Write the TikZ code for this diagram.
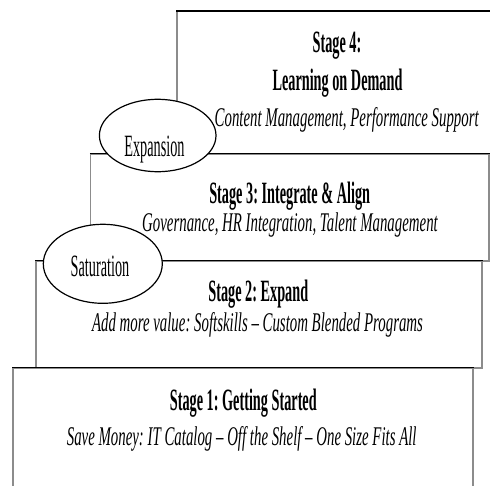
\documentclass[tikz,border=0pt]{standalone}
\usepackage{fontspec}
\setmainfont{Liberation Serif}
\newfontfamily\headfont{Liberation Serif}[FakeStretch=0.46]
\newfontfamily\descfont{Liberation Serif}[FakeStretch=0.55]
\usetikzlibrary{shapes.geometric}
\tikzset{
  stagebox/.style={draw=black!45, line width=1.2pt, fill=white, inner sep=0pt, rectangle},
  hline/.style={draw=black, line width=1.6pt},
  ovalbox/.style={ellipse, draw=black, line width=1.2pt, fill=white, inner sep=0pt},
  headtext/.style={anchor=base, inner sep=0pt, font=\frenchspacing\headfont\bfseries\fontsize{31}{36}\selectfont},
  desctext/.style={anchor=base, inner sep=0pt, font=\frenchspacing\descfont\itshape\fontsize{27}{32}\selectfont},
  ovaltext/.style={anchor=base, inner sep=0pt, font=\frenchspacing\headfont\fontsize{31}{36}\selectfont},
}
\begin{document}
\begin{tikzpicture}[x=1pt,y=-1pt]
\useasboundingbox (0,0) rectangle (490,485);
\clip (0,0) rectangle (490,485);
% boxes
\node[stagebox, minimum width=323pt, minimum height=142.5pt] (s4) at (338.5,82.75) {};
\node[stagebox, minimum width=398.5pt, minimum height=107pt] (s3) at (289.75,207.5) {};
\node[stagebox, minimum width=446pt, minimum height=107pt] (s2) at (259,314.5) {};
\node[stagebox, minimum width=460pt, minimum height=132pt] (s1) at (243,434) {};
% horizontal edges
\draw[hline] (s4.north west) -- (s4.north east);
\draw[hline] (s3.north west) -- (s3.north east);
\draw[hline] (s2.north west) -- (s2.north east);
\draw[hline] (s1.north west) -- (s1.north east);
% texts
\node[headtext] (t4a) at (337,52.7) {Stage 4:};
\node[headtext] (t4b) at (337.5,90) {Learning on Demand};
\node[desctext] (t4c) at (346.7,126.7) {Content Management, Performance Support};
\node[headtext] (t3a) at (289.7,203.3) {Stage 3: Integrate \& Align};
\node[desctext] (t3b) at (290,231.7) {Governance, HR Integration, Talent Management};
\node[headtext] (t2a) at (258.3,301.7) {Stage 2: Expand};
\node[desctext] (t2b) at (257.5,331.7) {Add more value: Softskills – Custom Blended Programs};
\node[headtext] (t1a) at (243.3,410) {Stage 1: Getting Started};
\node[desctext] (t1b) at (241.7,445) {Save Money: IT Catalog – Off the Shelf – One Size Fits All};
% ellipses
\node[ovalbox, minimum width=116.6pt, minimum height=72.4pt] (expE) at (157.7,135.5) {};
\node[ovaltext] (expT) at (154.5,156.7) {Expansion};
\node[ovalbox, minimum width=119pt, minimum height=79pt] (satE) at (102.8,263.8) {};
\node[ovaltext] (satT) at (100,276.7) {Saturation};
\end{tikzpicture}
\end{document}
